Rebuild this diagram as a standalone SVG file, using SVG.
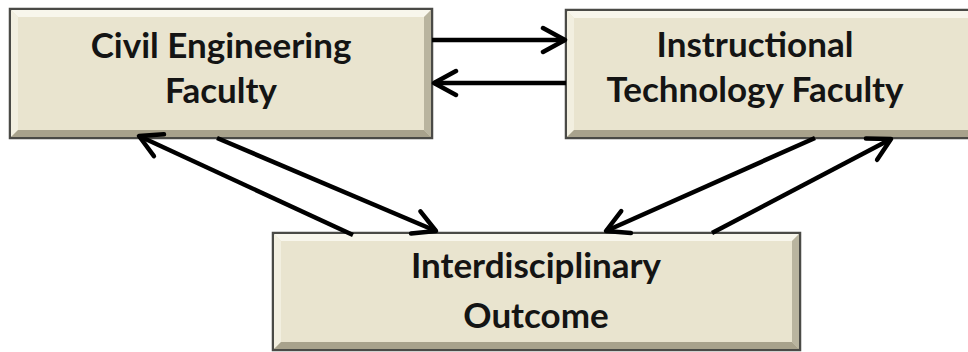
<svg xmlns="http://www.w3.org/2000/svg" width="968" height="352" viewBox="0 0 968 352">
<style>
.box{fill:#E9E4CF;stroke:#4a4a46;stroke-width:2.5}
.hl{fill:#F8F6EC}
.hl2{fill:#F2EFE0}
.sh{fill:#B9B49F}
.sh2{fill:#A8A28C}
.lbl{font-family:Lato,"Liberation Sans",sans-serif;font-weight:bold;font-size:35px;fill:#141414;text-anchor:middle}
.conn line{stroke:#000;stroke-width:4.5;stroke-linecap:butt}
</style>
<defs>
<marker id="ah" viewBox="0 0 30 30" refX="27" refY="15" markerWidth="30" markerHeight="30" markerUnits="userSpaceOnUse" orient="auto">
<path d="M5,3 L27,15 L5,27" fill="none" stroke="#000" stroke-width="4.5" stroke-linecap="round" stroke-linejoin="round"/>
</marker>
</defs>
<rect width="968" height="352" fill="#fff"/>

<g id="civil">
<rect class="box" x="10" y="9" width="422" height="129"/>
<polygon class="hl" points="11,10 431,10 424,17 18,17"/>
<polygon class="hl2" points="11,10 18,17 18,130 11,137"/>
<polygon class="sh" points="431,10 431,137 424,130 424,17"/>
<polygon class="sh2" points="11,137 431,137 424,130 18,130"/>
<text class="lbl" x="221" y="58">Civil Engineering</text>
<text class="lbl" x="221" y="103">Faculty</text>
</g>

<g id="instructional">
<rect class="box" x="566" y="10" width="410" height="128"/>
<polygon class="hl" points="567,11 975,11 968,18 574,18"/>
<polygon class="hl2" points="567,11 574,18 574,130 567,137"/>
<polygon class="sh2" points="567,137 975,137 968,130 574,130"/>
<text class="lbl" x="755" y="57">Instructional</text>
<text class="lbl" x="755" y="102">Technology Faculty</text>
</g>

<g id="outcome">
<rect class="box" x="273" y="233" width="527" height="117"/>
<polygon class="hl" points="274,234 799,234 792,241 281,241"/>
<polygon class="hl2" points="274,234 281,241 281,342 274,349"/>
<polygon class="sh" points="799,234 799,349 792,342 792,241"/>
<polygon class="sh2" points="274,349 799,349 792,342 281,342"/>
<text class="lbl" x="536" y="278">Interdisciplinary</text>
<text class="lbl" x="536" y="328">Outcome</text>
</g>

<g id="connectors" class="conn">
<line x1="432" y1="40" x2="565" y2="40" marker-end="url(#ah)"/>
<line x1="566" y1="83" x2="434" y2="83" marker-end="url(#ah)"/>
<line x1="353" y1="235" x2="139" y2="136" marker-end="url(#ah)"/>
<line x1="217" y1="138" x2="436" y2="231" marker-end="url(#ah)"/>
<line x1="815" y1="138" x2="606" y2="231" marker-end="url(#ah)"/>
<line x1="712" y1="233" x2="891" y2="139" marker-end="url(#ah)"/>
</g>
</svg>
